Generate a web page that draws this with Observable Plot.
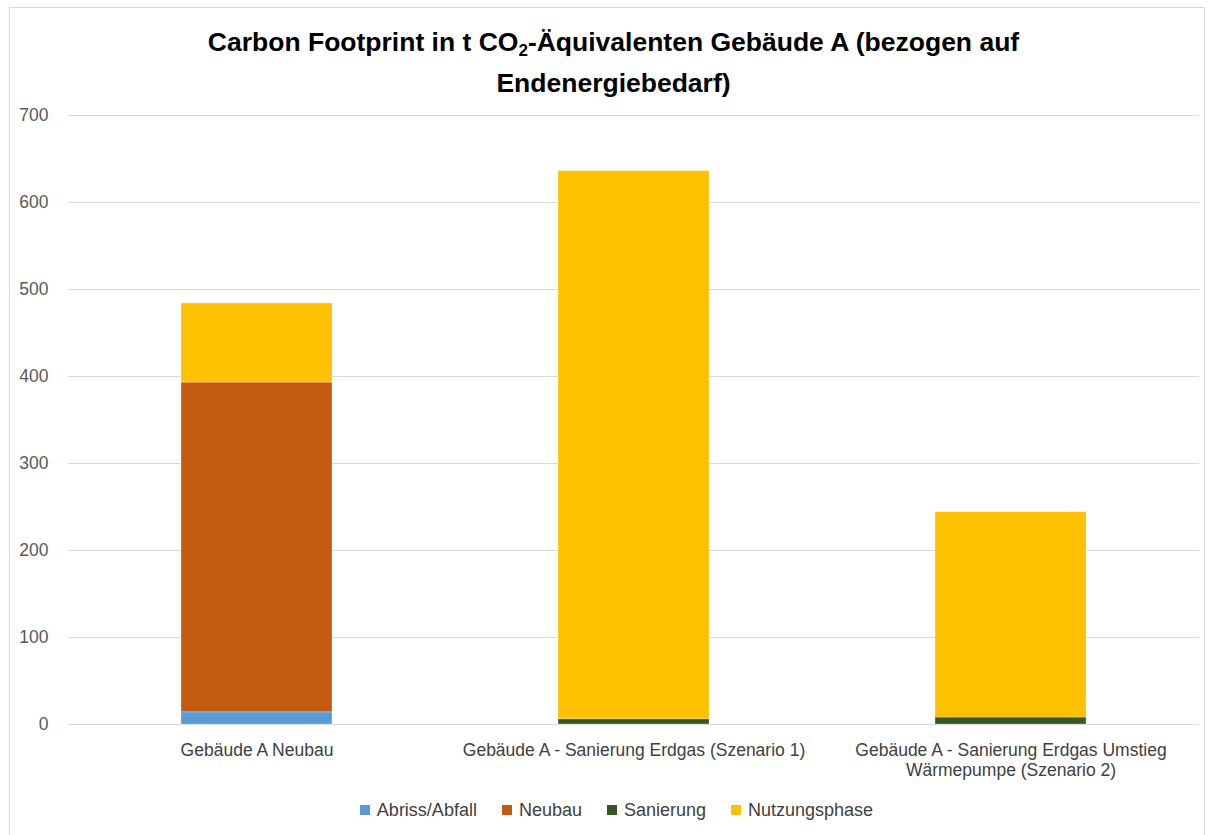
<!DOCTYPE html>
<html>
<head>
<meta charset="utf-8">
<script src="https://cdn.jsdelivr.net/npm/d3@7"></script>
<script src="https://cdn.jsdelivr.net/npm/@observablehq/plot@0.6"></script>
<style>
  html, body { margin: 0; padding: 0; background: #fff; }
  #page { position: relative; width: 1215px; height: 835px; overflow: hidden; font-family: "Liberation Sans", Arial, sans-serif; }
  #frame { position: absolute; left: 9px; top: 7px; width: 1196px; height: 840px; border: 1px solid #d9d9d9; box-sizing: border-box; pointer-events: none; }
  #title { height: 100px; box-sizing: border-box; padding-top: 26px; padding-left: 12px; text-align: center; font-weight: bold; font-size: 26.5px; line-height: 33px; color: #000; white-space: nowrap; }
  #chart svg { display: block; }
  #legend { display: flex; justify-content: center; align-items: center; gap: 25px; margin-top: 9px; height: 22px; font-size: 18px; color: #404040; padding-left: 18px; }
  .item { display: flex; align-items: center; gap: 7px; }
  .sw { width: 10px; height: 10px; display: inline-block; }
</style>
</head>
<body>
<div id="page">
  <div id="frame"></div>
  <div id="title">Carbon Footprint in t CO<sub style="font-size:17px;vertical-align:-5px;">2</sub>-Äquivalenten Gebäude A (bezogen auf<br>Endenergiebedarf)</div>
  <div id="chart"></div>
  <div id="legend"></div>
</div>
<script>
const categories = [
  "Gebäude A Neubau",
  "Gebäude A - Sanierung Erdgas (Szenario 1)",
  "Gebäude A - Sanierung Erdgas Umstieg Wärmepumpe (Szenario 2)"
];
const tickLabels = [
  "Gebäude A Neubau",
  "Gebäude A - Sanierung Erdgas (Szenario 1)",
  "Gebäude A - Sanierung Erdgas Umstieg\nWärmepumpe (Szenario 2)"
];
const seriesNames = ["Abriss/Abfall", "Neubau", "Sanierung", "Nutzungsphase"];
const seriesColors = ["#5B9BD5", "#C55A11", "#375623", "#FFC000"];
const abrissValues = [14, 0, 0];
const neubauValues = [379, 0, 0];
const sanierungValues = [0, 6, 8];
const nutzungValues = [91, 630, 236];
const yTicks = [0, 100, 200, 300, 400, 500, 600, 700];

const seriesValues = [abrissValues, neubauValues, sanierungValues, nutzungValues];
const data = [];
seriesNames.forEach((s, si) => {
  categories.forEach((c, ci) => {
    data.push({series: s, category: c, value: seriesValues[si][ci]});
  });
});

const chart = Plot.plot({
  width: 1215,
  height: 690,
  marginLeft: 68,
  marginRight: 16,
  marginTop: 15,
  marginBottom: 66,
  style: {fontFamily: "'Liberation Sans', Arial, sans-serif", background: "transparent"},
  x: {domain: categories, paddingInner: 0.6, paddingOuter: 0.3, axis: null},
  y: {domain: [0, 700], axis: null},
  color: {domain: seriesNames, range: seriesColors},
  marks: [
    Plot.gridY(yTicks, {stroke: "#d9d9d9", strokeOpacity: 1, strokeWidth: 1}),
    Plot.barY(data, {x: "category", y: "value", fill: "series", stroke: "#ffffff", strokeOpacity: 0.35, strokeWidth: 0.8}),
    Plot.axisY({ticks: yTicks, tickSize: 0, tickPadding: 20, label: null, fontSize: 17.5, fill: "#595959"}),
    Plot.axisX({tickSize: 0, tickPadding: 17, label: null, fontSize: 17.5, fill: "#404040", lineHeight: 1.15,
      tickFormat: (d) => tickLabels[categories.indexOf(d)]})
  ]
});
document.getElementById("chart").appendChild(chart);

const legend = document.getElementById("legend");
seriesNames.forEach((s, i) => {
  const it = document.createElement("span");
  it.className = "item";
  const sw = document.createElement("span");
  sw.className = "sw";
  sw.style.background = seriesColors[i];
  const t = document.createElement("span");
  t.textContent = s;
  it.appendChild(sw);
  it.appendChild(t);
  legend.appendChild(it);
});
</script>
</body>
</html>
